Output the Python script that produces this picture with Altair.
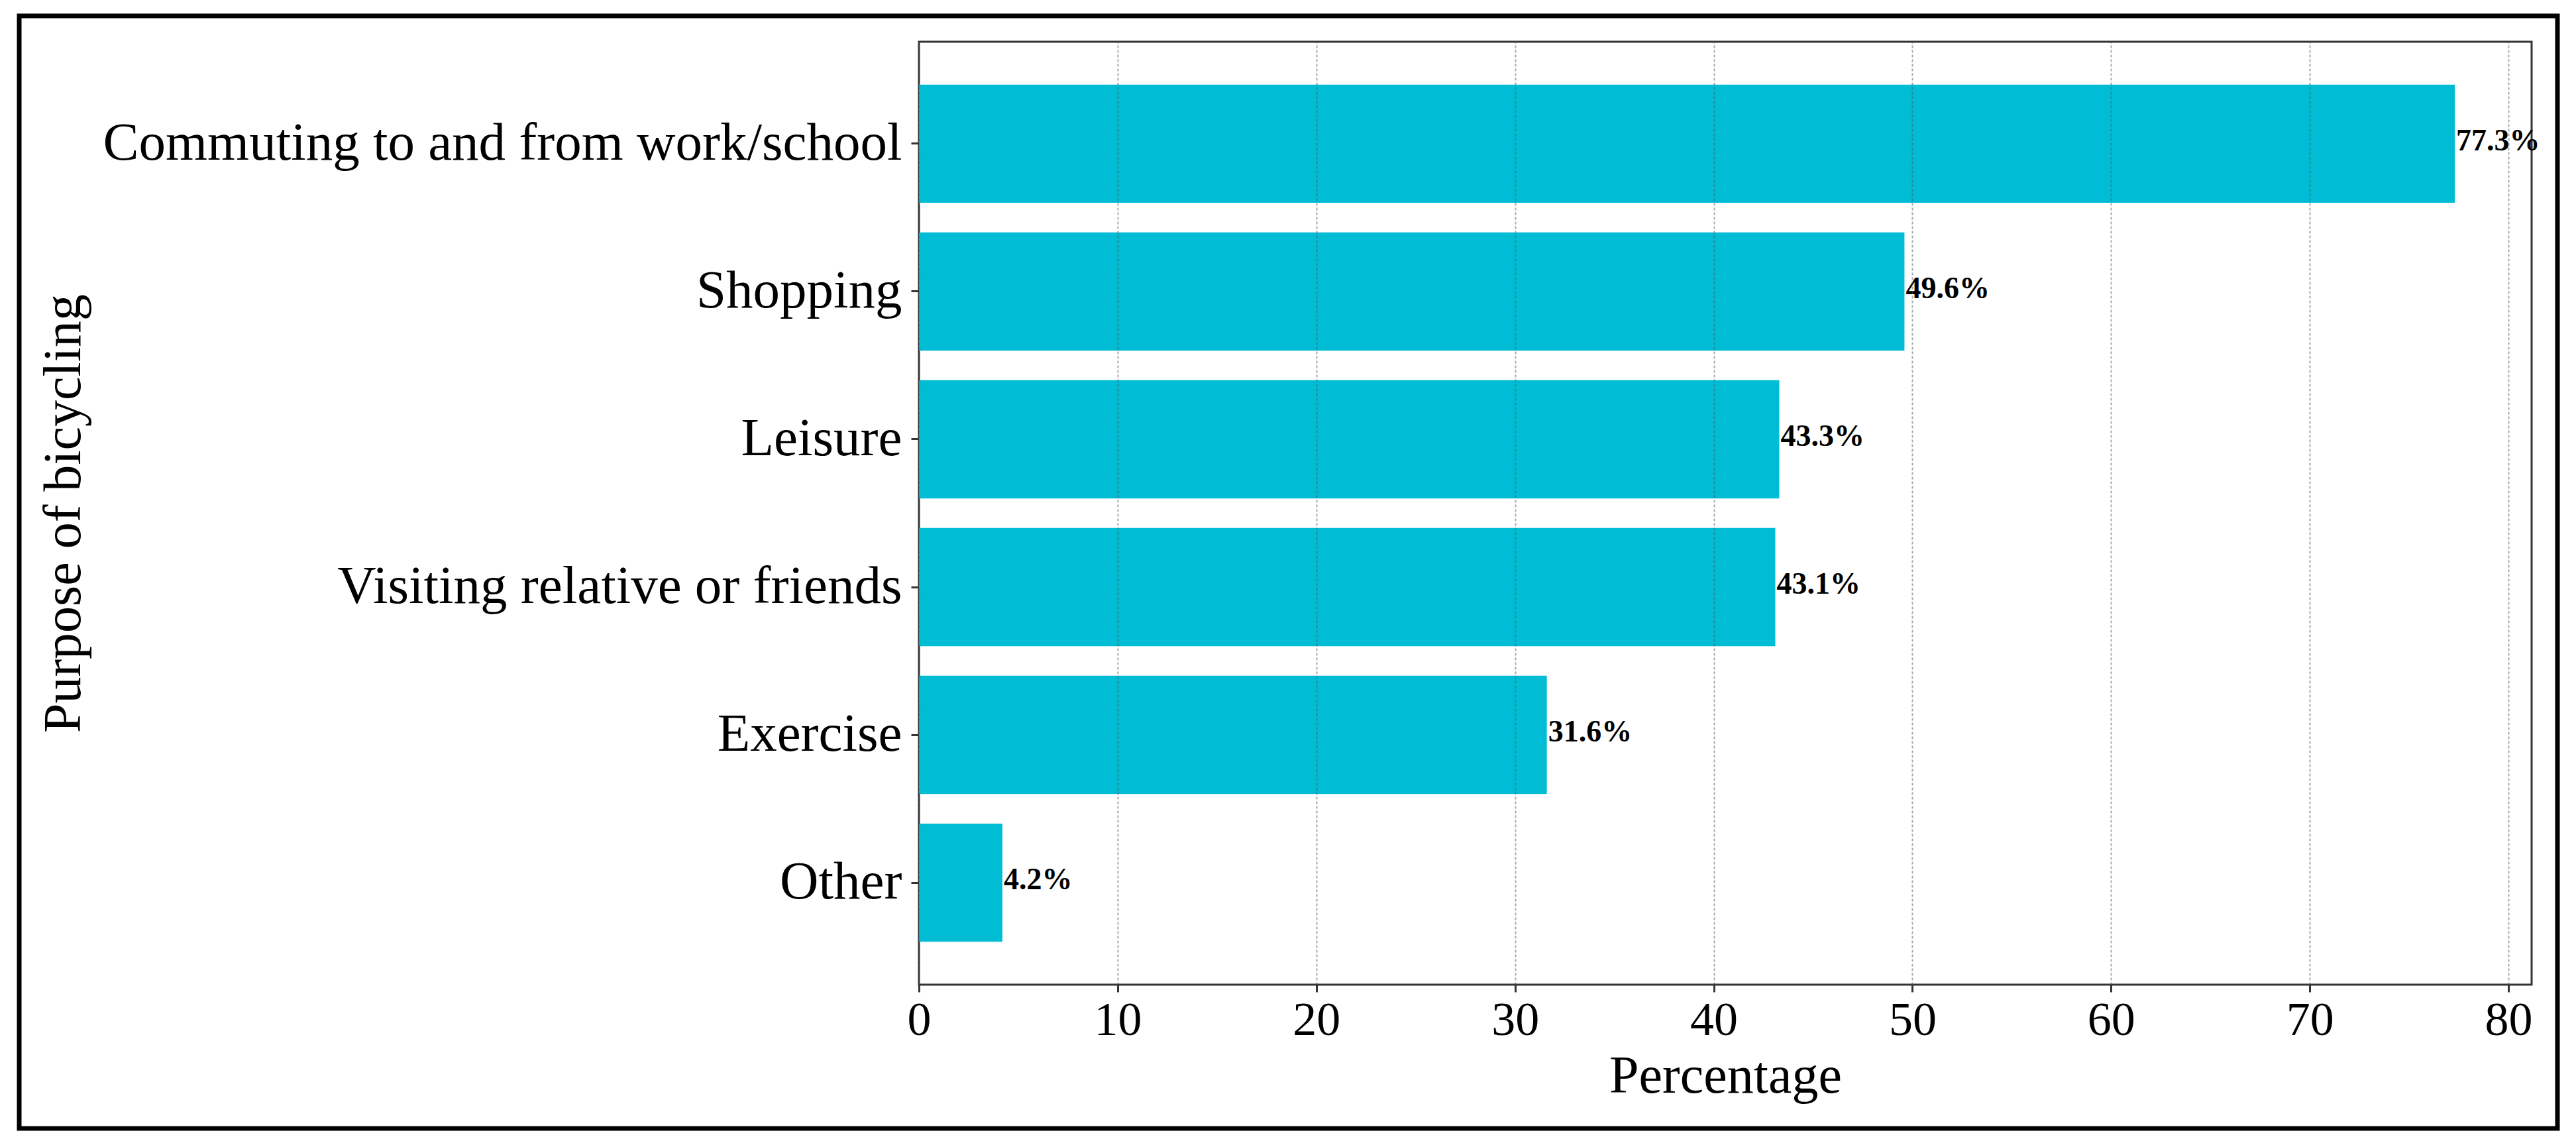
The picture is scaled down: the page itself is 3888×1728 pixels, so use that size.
import altair as alt
import pandas as pd

categories = [
    "Commuting to and from work/school",
    "Shopping",
    "Leisure",
    "Visiting relative or friends",
    "Exercise",
    "Other",
]
values = [77.3, 49.6, 43.3, 43.1, 31.6, 4.2]
x_ticks = [0, 10, 20, 30, 40, 50, 60, 70, 80]

df = pd.DataFrame({
    "cat": categories,
    "val": values,
    "label": [f"{v}%" for v in values],
})

FONT = "Liberation Serif"
W, H = 2434, 1423

y_enc = alt.Y(
    "cat:N",
    sort=categories,
    scale=alt.Scale(paddingInner=0.2, paddingOuter=0.29),
    axis=alt.Axis(
        title="Purpose of bicycling",
        titleFont=FONT, titleFontSize=80, titleFontWeight="normal", titleColor="black",
        titleAngle=270, titleX=-1267, titleY=H / 2, titleAlign="center",
        titleBaseline="alphabetic",
        labelFont=FONT, labelFontSize=81, labelColor="black", labelPadding=14,
        tickSize=12, tickWidth=3, tickColor="#333", domain=False, grid=False,
        labelLimit=3000,
    ),
)

x_enc = alt.X(
    "val:Q",
    scale=alt.Scale(domain=[0, 81.165], nice=False, zero=True),
    axis=alt.Axis(
        values=x_ticks, format="d", labelFlush=False, labelOverlap=False,
        title="Percentage",
        titleFont=FONT, titleFontSize=80, titleFontWeight="normal", titleColor="black",
        titleX=W / 2, titleY=162, titleAlign="center", titleBaseline="alphabetic",
        labelFont=FONT, labelFontSize=72, labelColor="black", labelPadding=7,
        tickSize=11, tickWidth=3, tickColor="#333", domain=False,
        grid=True, gridColor="#555", gridOpacity=0.5, gridWidth=2, gridDash=[4, 3],
        zindex=1,
    ),
)

bars = alt.Chart(df).mark_bar(color="#00BCD4").encode(x=x_enc, y=y_enc)

texts = alt.Chart(df).mark_text(
    align="left", baseline="middle", dx=2, dy=-4,
    font=FONT, fontSize=46, fontWeight="bold", color="black",
).encode(x="val:Q", y=alt.Y("cat:N", sort=categories), text="label:N")

frame = alt.Chart(alt.Data(values=[{"a": 1}])).mark_rect(
    fill=None, stroke="black", strokeWidth=7, filled=False,
).encode(
    x=alt.value(-1358), x2=alt.value(2473),
    y=alt.value(-39), y2=alt.value(1640),
)

chart = alt.layer(bars, texts, frame).properties(
    width=W, height=H,
    autosize=alt.AutoSizeParams(type="none"),
    padding={"left": 1379, "top": 55, "right": 59, "bottom": 226},
    background="white",
).configure_view(
    stroke="#333", strokeWidth=3,
)

chart.save("out.html", embed_options={"renderer": "svg", "actions": False})
